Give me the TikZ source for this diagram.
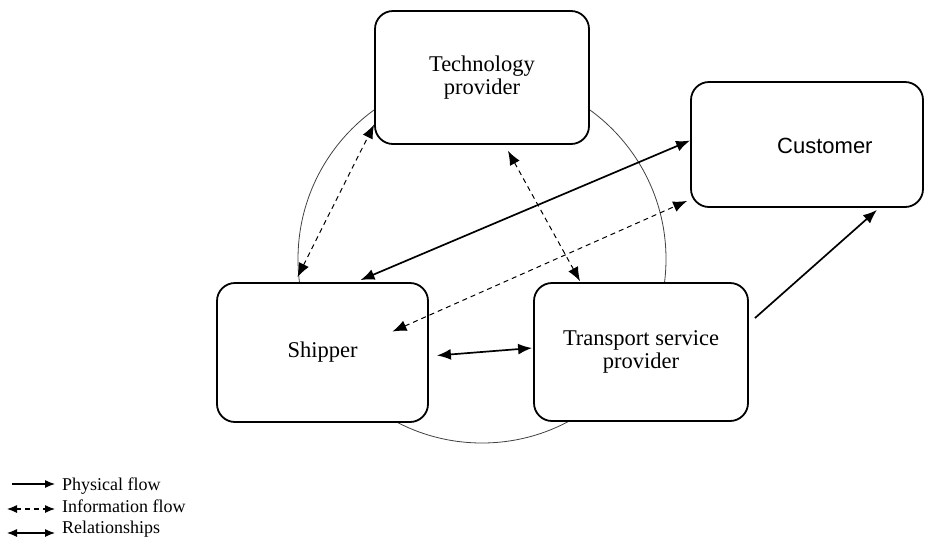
\documentclass[tikz,border=0pt]{standalone}
\usepackage{fontspec}
\setmainfont{Liberation Serif}
\newfontfamily\sansfam{Liberation Sans}
\usetikzlibrary{arrows.meta}
\begin{document}
\begin{tikzpicture}[x=1pt,y=-1pt,
  actor/.style={draw, line width=1.8pt, rounded corners=18pt, fill=white,
    align=center, inner sep=0pt, font=\fontsize{22.5}{23.5}\selectfont},
  physflow/.style={line width=1.7pt, -{Latex[length=14pt,width=11pt]}},
  relflow/.style={line width=1.7pt, {Latex[length=14pt,width=11pt]}-{Latex[length=14pt,width=11pt]}},
  infoflow/.style={line width=1pt, dash pattern=on 5pt off 4pt,
    {Latex[length=14pt,width=11pt]}-{Latex[length=14pt,width=11pt]}},
  keyline/.style={line width=1.1pt},
  keytext/.style={anchor=base west, inner sep=0pt, font=\fontsize{18}{20}\selectfont},
]
\useasboundingbox (0,0) rectangle (925,539);

% relationship ring behind the actors
\node[circle, draw=black!75, line width=0.8pt, minimum size=368pt, inner sep=0pt] (ring) at (482,259) {};

% actors
\node[actor, minimum width=214pt, minimum height=133pt] (tech) at (482,77.5) {Technology\\provider};
\node[actor, minimum width=232pt, minimum height=125pt] (cust) at (807,144.5) {};
\node[anchor=base west, inner sep=0pt, font=\sansfam\fontsize{22}{24}\selectfont] (custtext) at (777,153) {Customer};
\node[actor, minimum width=211pt, minimum height=139pt] (ship) at (322.5,352.5) {Shipper};
\node[actor, minimum width=214pt, minimum height=138pt] (tsp) at (641,352) {Transport service\\provider};

% flows between actors
\draw[infoflow] ([xshift=-25pt,yshift=5pt]ship.north) -- ([yshift=-47pt]tech.west);
\draw[relflow] ([xshift=38pt,yshift=2pt]ship.north) -- ([yshift=4pt]cust.west);
\draw[infoflow] ([xshift=70pt,yshift=21pt]ship.center) -- ([xshift=-3pt,yshift=7pt]cust.south west);
\draw[infoflow] ([xshift=26pt,yshift=-6pt]tech.south) -- ([xshift=-61pt,yshift=1pt]tsp.north);
\draw[relflow] ([xshift=8pt,yshift=-3pt]ship.east) -- ([xshift=-1pt,yshift=4pt]tsp.west);
\draw[physflow] ([xshift=6pt,yshift=-36pt]tsp.north east) -- ([xshift=70pt,yshift=-2pt]cust.south);

% key
\coordinate (k1a) at (12,484);  \coordinate (k1b) at (55,484);
\coordinate (k2a) at (7,509);   \coordinate (k2b) at (55,509);
\coordinate (k3a) at (7,533);   \coordinate (k3b) at (55,533);
\draw[keyline, -{Latex[length=10pt,width=8pt]}] (k1a) -- (k1b);
\draw[keyline, dash pattern=on 5pt off 4pt, {Latex[length=10pt,width=8pt]}-{Latex[length=10pt,width=8pt]}] (k2a) -- (k2b);
\draw[keyline, {Latex[length=10pt,width=8pt]}-{Latex[length=10pt,width=8pt]}] (k3a) -- (k3b);
\node[keytext] (k1t) at (62,490) {Physical flow};
\node[keytext] (k2t) at (62,512.5) {Information flow};
\node[keytext] (k3t) at (62,533) {Relationships};
\end{tikzpicture}
\end{document}
